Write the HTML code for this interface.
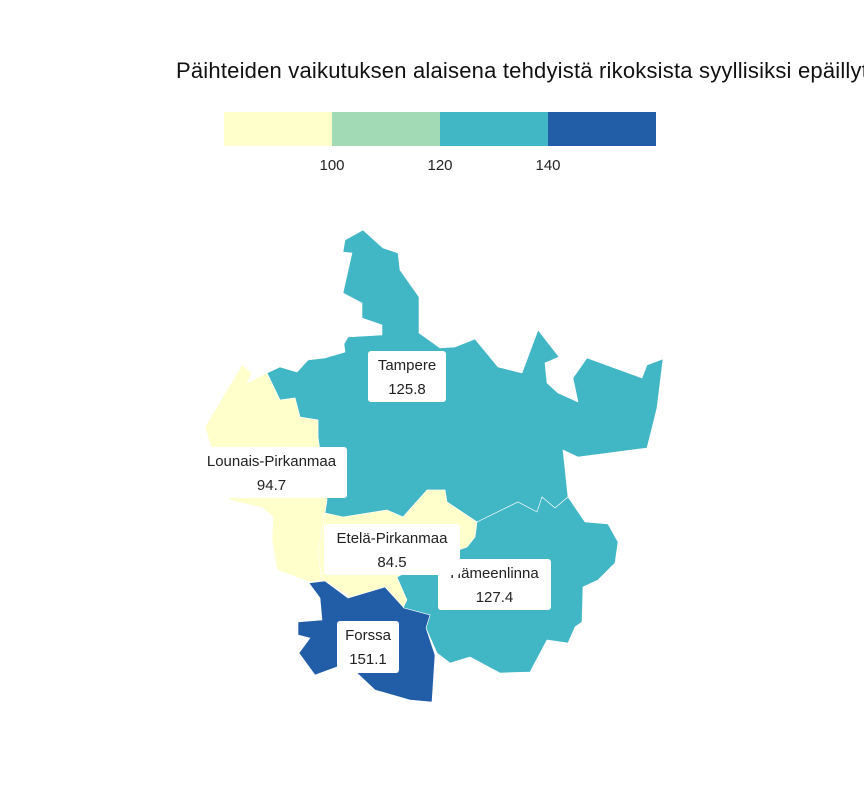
<!DOCTYPE html>
<html><head><meta charset="utf-8"><style>
body{margin:0;background:#fff;overflow:hidden;}
svg{display:block;font-family:"Liberation Sans",sans-serif;}
</style></head><body>
<svg id="chart" width="864" height="792">
<text x="176" y="78" font-size="22" letter-spacing="0.2" fill="#111">Päihteiden vaikutuksen alaisena tehdyistä rikoksista syyllisiksi epäillyt</text>
<g id="legend"></g>
<g id="regions"></g>
<g id="labels"></g>
</svg>
<script>
const regionNames = ["Tampere","Hämeenlinna","Lounais-Pirkanmaa","Etelä-Pirkanmaa","Forssa"];
const regionValues = [125.8, 127.4, 94.7, 84.5, 151.1];
const legendBreaks = [100, 120, 140];
const legendColors = ["#ffffcc","#a1dab4","#41b6c4","#225ea8"];

const shapes = {
 "Tampere":"345,240 363,230 383,248 398,253 400,270 419,297 419,333 440,348 455,347 475,339 498,367 522,373 538,330 559,357 545,363 547,383 558,393 578,402 573,378 587,358 642,378 647,365 663,359 657,408 647,448 578,457 563,450 568,497 555,508 542,497 537,512 518,502 477,522 447,502 445,490 427,490 403,517 387,510 343,517 325,513 327,500 318,437 318,420 300,417 295,398 280,400 267,373 280,367 297,372 308,360 325,358 345,352 344,344 348,337 382,335 382,325 362,318 362,303 343,293 352,253 343,252",
 "Hämeenlinna":"477,522 518,502 537,512 542,497 555,508 568,497 585,522 608,524 618,542 615,563 598,580 583,587 582,622 575,627 568,643 547,640 530,672 500,673 470,657 450,663 437,653 426,628 430,615 404,608 397,577 430,560 467,547 475,537",
 "Lounais-Pirkanmaa":"205,427 242,365 252,373 247,383 267,373 280,400 295,398 300,417 318,420 318,437 327,500 325,513 318,553 322,580 310,582 277,570 272,540 273,517 263,508 230,500 215,460",
 "Etelä-Pirkanmaa":"310,582 322,580 318,553 325,513 343,517 387,510 403,517 427,490 445,490 447,502 477,522 475,537 467,547 430,560 397,577 407,600 403,608 385,588 350,597 327,582",
 "Forssa":"309,583 325,581 348,598 385,587 404,608 430,615 426,628 435,655 432,702 410,700 375,690 357,673 337,667 315,675 299,653 310,638 298,635 298,622 322,620 320,598"
};
const labelBoxes = {
 "Tampere":[368,351,78,51],
 "Hämeenlinna":[438,559,113,51],
 "Lounais-Pirkanmaa":[196,447,151,51],
 "Etelä-Pirkanmaa":[324,524,136,51],
 "Forssa":[337,621,62,52]
};
const NS="http://www.w3.org/2000/svg";
function colorFor(v){let i=0;while(i<legendBreaks.length&&v>=legendBreaks[i])i++;return legendColors[i];}

const lg=document.getElementById('legend');
const lx0=224, segW=108, ly=112, lh=34;
function legX(i){return lx0+i*segW;}
legendColors.forEach((c,i)=>{
 const r=document.createElementNS(NS,'rect');
 r.setAttribute('x',legX(i));r.setAttribute('y',ly);r.setAttribute('width',segW);r.setAttribute('height',lh);r.setAttribute('fill',c);
 
 
 lg.appendChild(r);
});
legendBreaks.forEach((b,i)=>{
 const t=document.createElementNS(NS,'text');
 t.setAttribute('x',legX(i+1));t.setAttribute('y',170);t.setAttribute('text-anchor','middle');t.setAttribute('font-size','15');t.setAttribute('fill','#222');
 t.textContent=b;
 
 
 lg.appendChild(t);
});

const rg=document.getElementById('regions');
const order=["Tampere","Hämeenlinna","Lounais-Pirkanmaa","Etelä-Pirkanmaa","Forssa"];
order.forEach(n=>{
 const v=regionValues[regionNames.indexOf(n)];
 const p=document.createElementNS(NS,'polygon');
 p.setAttribute('points',shapes[n]);p.setAttribute('fill',colorFor(v));
 p.setAttribute('stroke','#fff');p.setAttribute('stroke-width','0.6');
 
 
 rg.appendChild(p);
});

const lb=document.getElementById('labels');
regionNames.forEach((n,i)=>{
 const b=labelBoxes[n];
 const g=document.createElementNS(NS,'g');
 
 
 const r=document.createElementNS(NS,'rect');
 r.setAttribute('x',b[0]);r.setAttribute('y',b[1]);r.setAttribute('width',b[2]);r.setAttribute('height',b[3]);r.setAttribute('rx',3);r.setAttribute('fill','#fff');
 g.appendChild(r);
 const cx=b[0]+b[2]/2;
 const t1=document.createElementNS(NS,'text');
 t1.setAttribute('x',cx);t1.setAttribute('y',b[1]+19);t1.setAttribute('text-anchor','middle');t1.setAttribute('font-size','15');t1.setAttribute('fill','#222');
 t1.textContent=n;g.appendChild(t1);
 const t2=document.createElementNS(NS,'text');
 t2.setAttribute('x',cx);t2.setAttribute('y',b[1]+43);t2.setAttribute('text-anchor','middle');t2.setAttribute('font-size','15');t2.setAttribute('fill','#222');
 t2.textContent=regionValues[i].toFixed(1);g.appendChild(t2);
 lb.appendChild(g);
});
</script>
</body></html>
